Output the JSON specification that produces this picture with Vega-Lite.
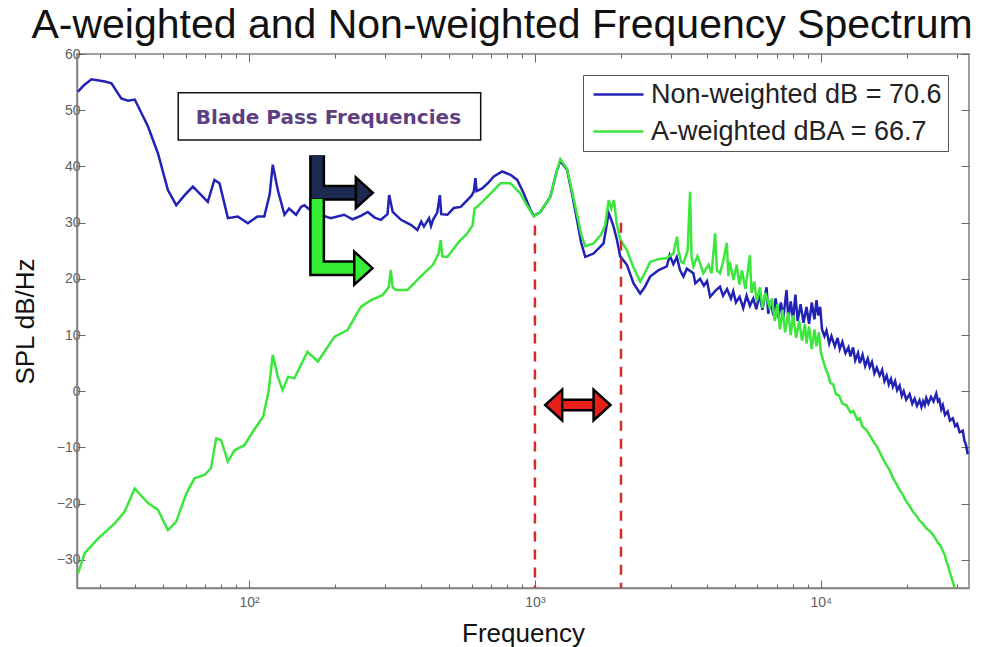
{
  "$schema": "https://vega.github.io/schema/vega-lite/v6.json",
  "width": 892,
  "height": 534,
  "autosize": {"type": "none"},
  "padding": {"left": 77, "top": 54, "right": 13, "bottom": 59},
  "background": "white",
  "title": {"text": "A-weighted and Non-weighted Frequency Spectrum", "fontSize": 41, "font": "Liberation Sans", "fontWeight": "normal", "color": "#111", "anchor": "middle", "dx": -21, "offset": -32, "baseline": "alphabetic"},
  "config": {
    "view": {"stroke": "#808080", "strokeWidth": 1.5},
    "axis": {"labelFont": "Liberation Sans", "titleFont": "Liberation Sans", "labelColor": "#606060", "labelFontSize": 14, "titleFontSize": 26, "titleFontWeight": "normal", "titleColor": "#111", "tickColor": "#666", "domainColor": "#808080", "domainWidth": 1.5, "grid": false},
    "legend": {"orient": "top-right", "offset": 21, "labelFont": "Liberation Sans", "labelFontSize": 27, "labelColor": "#222", "symbolType": "M-2.5,0L2.5,0", "symbolSize": 400, "symbolOffset": 16, "symbolStrokeWidth": 2.5, "strokeColor": "#555", "fillColor": "white", "padding": 6, "rowPadding": 9, "labelOffset": 19, "labelLimit": 400}
  },
  "datasets": {
    "spec": [
      {"s": "Non-weighted dB = 70.6", "f": 25.2, "v": 53.3},
      {"s": "Non-weighted dB = 70.6", "f": 26.5, "v": 54.5},
      {"s": "Non-weighted dB = 70.6", "f": 28.1, "v": 55.5},
      {"s": "Non-weighted dB = 70.6", "f": 31.3, "v": 55.1},
      {"s": "Non-weighted dB = 70.6", "f": 33, "v": 54.8},
      {"s": "Non-weighted dB = 70.6", "f": 35.7, "v": 52.1},
      {"s": "Non-weighted dB = 70.6", "f": 37.7, "v": 51.7},
      {"s": "Non-weighted dB = 70.6", "f": 39.8, "v": 51.9},
      {"s": "Non-weighted dB = 70.6", "f": 44.3, "v": 47.1},
      {"s": "Non-weighted dB = 70.6", "f": 48, "v": 42.3},
      {"s": "Non-weighted dB = 70.6", "f": 52, "v": 35.8},
      {"s": "Non-weighted dB = 70.6", "f": 55.6, "v": 33.1},
      {"s": "Non-weighted dB = 70.6", "f": 59.5, "v": 34.9},
      {"s": "Non-weighted dB = 70.6", "f": 63.6, "v": 36.4},
      {"s": "Non-weighted dB = 70.6", "f": 68, "v": 34.9},
      {"s": "Non-weighted dB = 70.6", "f": 71.7, "v": 33.7},
      {"s": "Non-weighted dB = 70.6", "f": 75.6, "v": 37.6},
      {"s": "Non-weighted dB = 70.6", "f": 78.8, "v": 37.0},
      {"s": "Non-weighted dB = 70.6", "f": 84.3, "v": 30.8},
      {"s": "Non-weighted dB = 70.6", "f": 91.3, "v": 31.1},
      {"s": "Non-weighted dB = 70.6", "f": 99, "v": 29.9},
      {"s": "Non-weighted dB = 70.6", "f": 107, "v": 31.1},
      {"s": "Non-weighted dB = 70.6", "f": 113, "v": 31.1},
      {"s": "Non-weighted dB = 70.6", "f": 118, "v": 35.0},
      {"s": "Non-weighted dB = 70.6", "f": 121, "v": 40.3},
      {"s": "Non-weighted dB = 70.6", "f": 126, "v": 35.8},
      {"s": "Non-weighted dB = 70.6", "f": 133, "v": 31.4},
      {"s": "Non-weighted dB = 70.6", "f": 138, "v": 32.5},
      {"s": "Non-weighted dB = 70.6", "f": 146, "v": 31.4},
      {"s": "Non-weighted dB = 70.6", "f": 152, "v": 32.8},
      {"s": "Non-weighted dB = 70.6", "f": 156, "v": 33.1},
      {"s": "Non-weighted dB = 70.6", "f": 164, "v": 32.2},
      {"s": "Non-weighted dB = 70.6", "f": 175, "v": 31.5},
      {"s": "Non-weighted dB = 70.6", "f": 193, "v": 30.8},
      {"s": "Non-weighted dB = 70.6", "f": 215, "v": 31.4},
      {"s": "Non-weighted dB = 70.6", "f": 230, "v": 30.6},
      {"s": "Non-weighted dB = 70.6", "f": 246, "v": 31.2},
      {"s": "Non-weighted dB = 70.6", "f": 260, "v": 31.9},
      {"s": "Non-weighted dB = 70.6", "f": 275, "v": 30.9},
      {"s": "Non-weighted dB = 70.6", "f": 289, "v": 30.5},
      {"s": "Non-weighted dB = 70.6", "f": 305, "v": 31.5},
      {"s": "Non-weighted dB = 70.6", "f": 309, "v": 34.9},
      {"s": "Non-weighted dB = 70.6", "f": 318, "v": 31.9},
      {"s": "Non-weighted dB = 70.6", "f": 340, "v": 30.5},
      {"s": "Non-weighted dB = 70.6", "f": 368, "v": 29.6},
      {"s": "Non-weighted dB = 70.6", "f": 388, "v": 28.7},
      {"s": "Non-weighted dB = 70.6", "f": 400, "v": 30.2},
      {"s": "Non-weighted dB = 70.6", "f": 409, "v": 29.3},
      {"s": "Non-weighted dB = 70.6", "f": 426, "v": 30.8},
      {"s": "Non-weighted dB = 70.6", "f": 433, "v": 29.4},
      {"s": "Non-weighted dB = 70.6", "f": 440, "v": 30.5},
      {"s": "Non-weighted dB = 70.6", "f": 455, "v": 31.8},
      {"s": "Non-weighted dB = 70.6", "f": 465, "v": 34.9},
      {"s": "Non-weighted dB = 70.6", "f": 470, "v": 31.5},
      {"s": "Non-weighted dB = 70.6", "f": 494, "v": 31.4},
      {"s": "Non-weighted dB = 70.6", "f": 520, "v": 32.6},
      {"s": "Non-weighted dB = 70.6", "f": 550, "v": 32.8},
      {"s": "Non-weighted dB = 70.6", "f": 580, "v": 34.0},
      {"s": "Non-weighted dB = 70.6", "f": 600, "v": 34.8},
      {"s": "Non-weighted dB = 70.6", "f": 611, "v": 35.5},
      {"s": "Non-weighted dB = 70.6", "f": 619, "v": 37.9},
      {"s": "Non-weighted dB = 70.6", "f": 625, "v": 35.6},
      {"s": "Non-weighted dB = 70.6", "f": 654, "v": 36.1},
      {"s": "Non-weighted dB = 70.6", "f": 690, "v": 37.2},
      {"s": "Non-weighted dB = 70.6", "f": 718, "v": 38.2},
      {"s": "Non-weighted dB = 70.6", "f": 768, "v": 39.1},
      {"s": "Non-weighted dB = 70.6", "f": 821, "v": 38.5},
      {"s": "Non-weighted dB = 70.6", "f": 867, "v": 37.6},
      {"s": "Non-weighted dB = 70.6", "f": 914, "v": 35.2},
      {"s": "Non-weighted dB = 70.6", "f": 960, "v": 32.5},
      {"s": "Non-weighted dB = 70.6", "f": 991, "v": 31.2},
      {"s": "Non-weighted dB = 70.6", "f": 1045, "v": 31.9},
      {"s": "Non-weighted dB = 70.6", "f": 1132, "v": 34.6},
      {"s": "Non-weighted dB = 70.6", "f": 1190, "v": 39.0},
      {"s": "Non-weighted dB = 70.6", "f": 1227, "v": 41.0},
      {"s": "Non-weighted dB = 70.6", "f": 1295, "v": 39.4},
      {"s": "Non-weighted dB = 70.6", "f": 1350, "v": 35.0},
      {"s": "Non-weighted dB = 70.6", "f": 1403, "v": 30.5},
      {"s": "Non-weighted dB = 70.6", "f": 1450, "v": 26.5},
      {"s": "Non-weighted dB = 70.6", "f": 1500, "v": 23.9},
      {"s": "Non-weighted dB = 70.6", "f": 1603, "v": 24.5},
      {"s": "Non-weighted dB = 70.6", "f": 1700, "v": 25.8},
      {"s": "Non-weighted dB = 70.6", "f": 1738, "v": 26.3},
      {"s": "Non-weighted dB = 70.6", "f": 1811, "v": 31.7},
      {"s": "Non-weighted dB = 70.6", "f": 1850, "v": 30.5},
      {"s": "Non-weighted dB = 70.6", "f": 1884, "v": 29.3},
      {"s": "Non-weighted dB = 70.6", "f": 1935, "v": 27.0},
      {"s": "Non-weighted dB = 70.6", "f": 1987, "v": 24.0},
      {"s": "Non-weighted dB = 70.6", "f": 2097, "v": 22.5},
      {"s": "Non-weighted dB = 70.6", "f": 2213, "v": 19.2},
      {"s": "Non-weighted dB = 70.6", "f": 2334, "v": 17.4},
      {"s": "Non-weighted dB = 70.6", "f": 2420, "v": 18.5},
      {"s": "Non-weighted dB = 70.6", "f": 2529, "v": 20.4},
      {"s": "Non-weighted dB = 70.6", "f": 2700, "v": 21.5},
      {"s": "Non-weighted dB = 70.6", "f": 2893, "v": 22.2},
      {"s": "Non-weighted dB = 70.6", "f": 2960, "v": 24.2},
      {"s": "Non-weighted dB = 70.6", "f": 3050, "v": 22.6},
      {"s": "Non-weighted dB = 70.6", "f": 3135, "v": 23.9},
      {"s": "Non-weighted dB = 70.6", "f": 3220, "v": 21.5},
      {"s": "Non-weighted dB = 70.6", "f": 3307, "v": 20.4},
      {"s": "Non-weighted dB = 70.6", "f": 3400, "v": 21.8},
      {"s": "Non-weighted dB = 70.6", "f": 3583, "v": 21.0},
      {"s": "Non-weighted dB = 70.6", "f": 3640, "v": 19.2},
      {"s": "Non-weighted dB = 70.6", "f": 3781, "v": 20.0},
      {"s": "Non-weighted dB = 70.6", "f": 3900, "v": 18.8},
      {"s": "Non-weighted dB = 70.6", "f": 4000, "v": 19.6},
      {"s": "Non-weighted dB = 70.6", "f": 4100, "v": 16.8},
      {"s": "Non-weighted dB = 70.6", "f": 4300, "v": 18.0},
      {"s": "Non-weighted dB = 70.6", "f": 4440, "v": 18.6},
      {"s": "Non-weighted dB = 70.6", "f": 4550, "v": 17.0},
      {"s": "Non-weighted dB = 70.6", "f": 4700, "v": 18.2},
      {"s": "Non-weighted dB = 70.6", "f": 4850, "v": 16.5},
      {"s": "Non-weighted dB = 70.6", "f": 4940, "v": 17.8},
      {"s": "Non-weighted dB = 70.6", "f": 5050, "v": 15.8},
      {"s": "Non-weighted dB = 70.6", "f": 5200, "v": 16.8},
      {"s": "Non-weighted dB = 70.6", "f": 5355, "v": 14.8},
      {"s": "Non-weighted dB = 70.6", "f": 5500, "v": 17.0},
      {"s": "Non-weighted dB = 70.6", "f": 5650, "v": 15.2},
      {"s": "Non-weighted dB = 70.6", "f": 5805, "v": 16.5},
      {"s": "Non-weighted dB = 70.6", "f": 5950, "v": 14.6},
      {"s": "Non-weighted dB = 70.6", "f": 6100, "v": 17.2},
      {"s": "Non-weighted dB = 70.6", "f": 6250, "v": 14.5},
      {"s": "Non-weighted dB = 70.6", "f": 6460, "v": 18.5},
      {"s": "Non-weighted dB = 70.6", "f": 6550, "v": 13.8},
      {"s": "Non-weighted dB = 70.6", "f": 6700, "v": 16.2},
      {"s": "Non-weighted dB = 70.6", "f": 6818, "v": 13.5},
      {"s": "Non-weighted dB = 70.6", "f": 6950, "v": 16.5},
      {"s": "Non-weighted dB = 70.6", "f": 7100, "v": 13.0},
      {"s": "Non-weighted dB = 70.6", "f": 7250, "v": 15.8},
      {"s": "Non-weighted dB = 70.6", "f": 7400, "v": 13.2},
      {"s": "Non-weighted dB = 70.6", "f": 7590, "v": 18.0},
      {"s": "Non-weighted dB = 70.6", "f": 7700, "v": 12.8},
      {"s": "Non-weighted dB = 70.6", "f": 7850, "v": 16.0},
      {"s": "Non-weighted dB = 70.6", "f": 8000, "v": 12.8},
      {"s": "Non-weighted dB = 70.6", "f": 8150, "v": 17.2},
      {"s": "Non-weighted dB = 70.6", "f": 8300, "v": 12.5},
      {"s": "Non-weighted dB = 70.6", "f": 8500, "v": 15.5},
      {"s": "Non-weighted dB = 70.6", "f": 8700, "v": 12.2},
      {"s": "Non-weighted dB = 70.6", "f": 8913, "v": 15.0},
      {"s": "Non-weighted dB = 70.6", "f": 9100, "v": 12.0},
      {"s": "Non-weighted dB = 70.6", "f": 9300, "v": 15.8},
      {"s": "Non-weighted dB = 70.6", "f": 9500, "v": 12.8},
      {"s": "Non-weighted dB = 70.6", "f": 9660, "v": 16.2},
      {"s": "Non-weighted dB = 70.6", "f": 9800, "v": 13.5},
      {"s": "Non-weighted dB = 70.6", "f": 9950, "v": 15.0},
      {"s": "Non-weighted dB = 70.6", "f": 10100, "v": 11.0},
      {"s": "Non-weighted dB = 70.6", "f": 10300, "v": 9.8},
      {"s": "Non-weighted dB = 70.6", "f": 10470, "v": 10.8},
      {"s": "Non-weighted dB = 70.6", "f": 10700, "v": 8.5},
      {"s": "Non-weighted dB = 70.6", "f": 10900, "v": 9.8},
      {"s": "Non-weighted dB = 70.6", "f": 11200, "v": 8.0},
      {"s": "Non-weighted dB = 70.6", "f": 11450, "v": 9.5},
      {"s": "Non-weighted dB = 70.6", "f": 11650, "v": 7.5},
      {"s": "Non-weighted dB = 70.6", "f": 11900, "v": 8.8},
      {"s": "Non-weighted dB = 70.6", "f": 12200, "v": 6.8},
      {"s": "Non-weighted dB = 70.6", "f": 12500, "v": 7.8},
      {"s": "Non-weighted dB = 70.6", "f": 12700, "v": 6.2},
      {"s": "Non-weighted dB = 70.6", "f": 12970, "v": 7.8},
      {"s": "Non-weighted dB = 70.6", "f": 13200, "v": 5.5},
      {"s": "Non-weighted dB = 70.6", "f": 13500, "v": 6.8},
      {"s": "Non-weighted dB = 70.6", "f": 13700, "v": 5.0},
      {"s": "Non-weighted dB = 70.6", "f": 14000, "v": 6.5},
      {"s": "Non-weighted dB = 70.6", "f": 14300, "v": 4.5},
      {"s": "Non-weighted dB = 70.6", "f": 14600, "v": 5.8},
      {"s": "Non-weighted dB = 70.6", "f": 14830, "v": 4.3},
      {"s": "Non-weighted dB = 70.6", "f": 15100, "v": 5.2},
      {"s": "Non-weighted dB = 70.6", "f": 15400, "v": 3.2},
      {"s": "Non-weighted dB = 70.6", "f": 15700, "v": 4.2},
      {"s": "Non-weighted dB = 70.6", "f": 16070, "v": 2.8},
      {"s": "Non-weighted dB = 70.6", "f": 16400, "v": 3.8},
      {"s": "Non-weighted dB = 70.6", "f": 16700, "v": 1.8},
      {"s": "Non-weighted dB = 70.6", "f": 17000, "v": 2.8},
      {"s": "Non-weighted dB = 70.6", "f": 17300, "v": 1.2},
      {"s": "Non-weighted dB = 70.6", "f": 17600, "v": 2.2},
      {"s": "Non-weighted dB = 70.6", "f": 17880, "v": 0.8},
      {"s": "Non-weighted dB = 70.6", "f": 18200, "v": 1.8},
      {"s": "Non-weighted dB = 70.6", "f": 18500, "v": 0.2},
      {"s": "Non-weighted dB = 70.6", "f": 18870, "v": 1.0},
      {"s": "Non-weighted dB = 70.6", "f": 19200, "v": -0.8},
      {"s": "Non-weighted dB = 70.6", "f": 19500, "v": 0.0},
      {"s": "Non-weighted dB = 70.6", "f": 19900, "v": -1.5},
      {"s": "Non-weighted dB = 70.6", "f": 20450, "v": -0.5},
      {"s": "Non-weighted dB = 70.6", "f": 20900, "v": -2.2},
      {"s": "Non-weighted dB = 70.6", "f": 21300, "v": -1.3},
      {"s": "Non-weighted dB = 70.6", "f": 21700, "v": -2.6},
      {"s": "Non-weighted dB = 70.6", "f": 22160, "v": -1.6},
      {"s": "Non-weighted dB = 70.6", "f": 22500, "v": -2.8},
      {"s": "Non-weighted dB = 70.6", "f": 22800, "v": -1.8},
      {"s": "Non-weighted dB = 70.6", "f": 23100, "v": -2.5},
      {"s": "Non-weighted dB = 70.6", "f": 23390, "v": -1.2},
      {"s": "Non-weighted dB = 70.6", "f": 23800, "v": -2.2},
      {"s": "Non-weighted dB = 70.6", "f": 24300, "v": -1.0},
      {"s": "Non-weighted dB = 70.6", "f": 24800, "v": -1.8},
      {"s": "Non-weighted dB = 70.6", "f": 25340, "v": -0.4},
      {"s": "Non-weighted dB = 70.6", "f": 25700, "v": -1.8},
      {"s": "Non-weighted dB = 70.6", "f": 26000, "v": -1.5},
      {"s": "Non-weighted dB = 70.6", "f": 26400, "v": -3.2},
      {"s": "Non-weighted dB = 70.6", "f": 26730, "v": -2.5},
      {"s": "Non-weighted dB = 70.6", "f": 27200, "v": -4.2},
      {"s": "Non-weighted dB = 70.6", "f": 27800, "v": -3.6},
      {"s": "Non-weighted dB = 70.6", "f": 28300, "v": -5.2},
      {"s": "Non-weighted dB = 70.6", "f": 28970, "v": -4.8},
      {"s": "Non-weighted dB = 70.6", "f": 29500, "v": -6.2},
      {"s": "Non-weighted dB = 70.6", "f": 30000, "v": -5.8},
      {"s": "Non-weighted dB = 70.6", "f": 30600, "v": -7.3},
      {"s": "Non-weighted dB = 70.6", "f": 31390, "v": -7.0},
      {"s": "Non-weighted dB = 70.6", "f": 31800, "v": -8.8},
      {"s": "Non-weighted dB = 70.6", "f": 32200, "v": -9.5},
      {"s": "Non-weighted dB = 70.6", "f": 32660, "v": -11.2},
      {"s": "A-weighted dBA = 66.7", "f": 25.2, "v": -32.4},
      {"s": "A-weighted dBA = 66.7", "f": 26.6, "v": -28.8},
      {"s": "A-weighted dBA = 66.7", "f": 29.6, "v": -26.2},
      {"s": "A-weighted dBA = 66.7", "f": 33.9, "v": -23.5},
      {"s": "A-weighted dBA = 66.7", "f": 36.7, "v": -21.4},
      {"s": "A-weighted dBA = 66.7", "f": 39.8, "v": -17.3},
      {"s": "A-weighted dBA = 66.7", "f": 44.3, "v": -19.9},
      {"s": "A-weighted dBA = 66.7", "f": 48, "v": -21.1},
      {"s": "A-weighted dBA = 66.7", "f": 52, "v": -24.7},
      {"s": "A-weighted dBA = 66.7", "f": 55.6, "v": -23.2},
      {"s": "A-weighted dBA = 66.7", "f": 60.3, "v": -18.2},
      {"s": "A-weighted dBA = 66.7", "f": 64.4, "v": -15.5},
      {"s": "A-weighted dBA = 66.7", "f": 69.8, "v": -14.9},
      {"s": "A-weighted dBA = 66.7", "f": 73.6, "v": -13.7},
      {"s": "A-weighted dBA = 66.7", "f": 76.7, "v": -8.4},
      {"s": "A-weighted dBA = 66.7", "f": 79.8, "v": -8.7},
      {"s": "A-weighted dBA = 66.7", "f": 84.3, "v": -12.5},
      {"s": "A-weighted dBA = 66.7", "f": 88.9, "v": -10.5},
      {"s": "A-weighted dBA = 66.7", "f": 96.3, "v": -9.6},
      {"s": "A-weighted dBA = 66.7", "f": 104, "v": -6.9},
      {"s": "A-weighted dBA = 66.7", "f": 112, "v": -4.5},
      {"s": "A-weighted dBA = 66.7", "f": 117, "v": 0.0},
      {"s": "A-weighted dBA = 66.7", "f": 121, "v": 6.5},
      {"s": "A-weighted dBA = 66.7", "f": 126, "v": 2.6},
      {"s": "A-weighted dBA = 66.7", "f": 131, "v": 0.2},
      {"s": "A-weighted dBA = 66.7", "f": 137, "v": 2.6},
      {"s": "A-weighted dBA = 66.7", "f": 144, "v": 2.3},
      {"s": "A-weighted dBA = 66.7", "f": 160, "v": 7.0},
      {"s": "A-weighted dBA = 66.7", "f": 174, "v": 5.3},
      {"s": "A-weighted dBA = 66.7", "f": 199, "v": 9.7},
      {"s": "A-weighted dBA = 66.7", "f": 221, "v": 10.9},
      {"s": "A-weighted dBA = 66.7", "f": 246, "v": 15.0},
      {"s": "A-weighted dBA = 66.7", "f": 267, "v": 16.2},
      {"s": "A-weighted dBA = 66.7", "f": 293, "v": 17.1},
      {"s": "A-weighted dBA = 66.7", "f": 308, "v": 18.5},
      {"s": "A-weighted dBA = 66.7", "f": 313, "v": 21.6},
      {"s": "A-weighted dBA = 66.7", "f": 318, "v": 18.5},
      {"s": "A-weighted dBA = 66.7", "f": 326, "v": 18.0},
      {"s": "A-weighted dBA = 66.7", "f": 358, "v": 18.0},
      {"s": "A-weighted dBA = 66.7", "f": 398, "v": 20.4},
      {"s": "A-weighted dBA = 66.7", "f": 440, "v": 22.5},
      {"s": "A-weighted dBA = 66.7", "f": 460, "v": 24.5},
      {"s": "A-weighted dBA = 66.7", "f": 468, "v": 26.9},
      {"s": "A-weighted dBA = 66.7", "f": 474, "v": 24.0},
      {"s": "A-weighted dBA = 66.7", "f": 494, "v": 23.9},
      {"s": "A-weighted dBA = 66.7", "f": 540, "v": 26.5},
      {"s": "A-weighted dBA = 66.7", "f": 580, "v": 28.1},
      {"s": "A-weighted dBA = 66.7", "f": 605, "v": 29.5},
      {"s": "A-weighted dBA = 66.7", "f": 615, "v": 32.5},
      {"s": "A-weighted dBA = 66.7", "f": 628, "v": 32.8},
      {"s": "A-weighted dBA = 66.7", "f": 681, "v": 34.6},
      {"s": "A-weighted dBA = 66.7", "f": 758, "v": 37.0},
      {"s": "A-weighted dBA = 66.7", "f": 821, "v": 37.0},
      {"s": "A-weighted dBA = 66.7", "f": 889, "v": 35.2},
      {"s": "A-weighted dBA = 66.7", "f": 940, "v": 33.0},
      {"s": "A-weighted dBA = 66.7", "f": 991, "v": 31.1},
      {"s": "A-weighted dBA = 66.7", "f": 1045, "v": 31.9},
      {"s": "A-weighted dBA = 66.7", "f": 1132, "v": 34.6},
      {"s": "A-weighted dBA = 66.7", "f": 1190, "v": 39.0},
      {"s": "A-weighted dBA = 66.7", "f": 1227, "v": 41.3},
      {"s": "A-weighted dBA = 66.7", "f": 1295, "v": 39.6},
      {"s": "A-weighted dBA = 66.7", "f": 1350, "v": 35.5},
      {"s": "A-weighted dBA = 66.7", "f": 1403, "v": 31.5},
      {"s": "A-weighted dBA = 66.7", "f": 1450, "v": 28.0},
      {"s": "A-weighted dBA = 66.7", "f": 1500, "v": 25.8},
      {"s": "A-weighted dBA = 66.7", "f": 1603, "v": 26.3},
      {"s": "A-weighted dBA = 66.7", "f": 1700, "v": 27.8},
      {"s": "A-weighted dBA = 66.7", "f": 1760, "v": 29.5},
      {"s": "A-weighted dBA = 66.7", "f": 1811, "v": 34.0},
      {"s": "A-weighted dBA = 66.7", "f": 1850, "v": 32.5},
      {"s": "A-weighted dBA = 66.7", "f": 1890, "v": 34.0},
      {"s": "A-weighted dBA = 66.7", "f": 1930, "v": 30.0},
      {"s": "A-weighted dBA = 66.7", "f": 1987, "v": 27.0},
      {"s": "A-weighted dBA = 66.7", "f": 2097, "v": 25.1},
      {"s": "A-weighted dBA = 66.7", "f": 2213, "v": 22.0},
      {"s": "A-weighted dBA = 66.7", "f": 2334, "v": 19.5},
      {"s": "A-weighted dBA = 66.7", "f": 2420, "v": 21.0},
      {"s": "A-weighted dBA = 66.7", "f": 2529, "v": 23.0},
      {"s": "A-weighted dBA = 66.7", "f": 2700, "v": 23.5},
      {"s": "A-weighted dBA = 66.7", "f": 2893, "v": 23.7},
      {"s": "A-weighted dBA = 66.7", "f": 3050, "v": 24.5},
      {"s": "A-weighted dBA = 66.7", "f": 3140, "v": 27.5},
      {"s": "A-weighted dBA = 66.7", "f": 3177, "v": 25.0},
      {"s": "A-weighted dBA = 66.7", "f": 3250, "v": 23.0},
      {"s": "A-weighted dBA = 66.7", "f": 3307, "v": 22.8},
      {"s": "A-weighted dBA = 66.7", "f": 3420, "v": 25.0},
      {"s": "A-weighted dBA = 66.7", "f": 3490, "v": 35.5},
      {"s": "A-weighted dBA = 66.7", "f": 3530, "v": 24.0},
      {"s": "A-weighted dBA = 66.7", "f": 3583, "v": 22.2},
      {"s": "A-weighted dBA = 66.7", "f": 3700, "v": 24.0},
      {"s": "A-weighted dBA = 66.7", "f": 3780, "v": 22.8},
      {"s": "A-weighted dBA = 66.7", "f": 3880, "v": 21.0},
      {"s": "A-weighted dBA = 66.7", "f": 4050, "v": 22.5},
      {"s": "A-weighted dBA = 66.7", "f": 4150, "v": 21.0},
      {"s": "A-weighted dBA = 66.7", "f": 4270, "v": 28.1},
      {"s": "A-weighted dBA = 66.7", "f": 4330, "v": 21.5},
      {"s": "A-weighted dBA = 66.7", "f": 4440, "v": 21.0},
      {"s": "A-weighted dBA = 66.7", "f": 4550, "v": 23.0},
      {"s": "A-weighted dBA = 66.7", "f": 4690, "v": 26.4},
      {"s": "A-weighted dBA = 66.7", "f": 4750, "v": 20.5},
      {"s": "A-weighted dBA = 66.7", "f": 4810, "v": 23.0},
      {"s": "A-weighted dBA = 66.7", "f": 4950, "v": 19.8},
      {"s": "A-weighted dBA = 66.7", "f": 5080, "v": 22.5},
      {"s": "A-weighted dBA = 66.7", "f": 5190, "v": 19.0},
      {"s": "A-weighted dBA = 66.7", "f": 5300, "v": 21.5},
      {"s": "A-weighted dBA = 66.7", "f": 5450, "v": 18.2},
      {"s": "A-weighted dBA = 66.7", "f": 5650, "v": 24.2},
      {"s": "A-weighted dBA = 66.7", "f": 5720, "v": 17.5},
      {"s": "A-weighted dBA = 66.7", "f": 5850, "v": 19.5},
      {"s": "A-weighted dBA = 66.7", "f": 5970, "v": 16.0},
      {"s": "A-weighted dBA = 66.7", "f": 6130, "v": 18.5},
      {"s": "A-weighted dBA = 66.7", "f": 6250, "v": 14.8},
      {"s": "A-weighted dBA = 66.7", "f": 6400, "v": 17.5},
      {"s": "A-weighted dBA = 66.7", "f": 6620, "v": 15.0},
      {"s": "A-weighted dBA = 66.7", "f": 6750, "v": 16.5},
      {"s": "A-weighted dBA = 66.7", "f": 6900, "v": 12.5},
      {"s": "A-weighted dBA = 66.7", "f": 7050, "v": 15.5},
      {"s": "A-weighted dBA = 66.7", "f": 7200, "v": 11.0},
      {"s": "A-weighted dBA = 66.7", "f": 7350, "v": 14.5},
      {"s": "A-weighted dBA = 66.7", "f": 7500, "v": 10.5},
      {"s": "A-weighted dBA = 66.7", "f": 7700, "v": 14.0},
      {"s": "A-weighted dBA = 66.7", "f": 7850, "v": 10.0},
      {"s": "A-weighted dBA = 66.7", "f": 8000, "v": 13.5},
      {"s": "A-weighted dBA = 66.7", "f": 8200, "v": 9.5},
      {"s": "A-weighted dBA = 66.7", "f": 8400, "v": 12.5},
      {"s": "A-weighted dBA = 66.7", "f": 8600, "v": 9.0},
      {"s": "A-weighted dBA = 66.7", "f": 8800, "v": 12.0},
      {"s": "A-weighted dBA = 66.7", "f": 8913, "v": 8.5},
      {"s": "A-weighted dBA = 66.7", "f": 9100, "v": 11.5},
      {"s": "A-weighted dBA = 66.7", "f": 9300, "v": 7.5},
      {"s": "A-weighted dBA = 66.7", "f": 9500, "v": 11.0},
      {"s": "A-weighted dBA = 66.7", "f": 9660, "v": 8.0},
      {"s": "A-weighted dBA = 66.7", "f": 9850, "v": 10.5},
      {"s": "A-weighted dBA = 66.7", "f": 10000, "v": 7.0},
      {"s": "A-weighted dBA = 66.7", "f": 10190, "v": 5.5},
      {"s": "A-weighted dBA = 66.7", "f": 10400, "v": 4.0},
      {"s": "A-weighted dBA = 66.7", "f": 10600, "v": 3.0},
      {"s": "A-weighted dBA = 66.7", "f": 10800, "v": 1.5},
      {"s": "A-weighted dBA = 66.7", "f": 11050, "v": 1.2},
      {"s": "A-weighted dBA = 66.7", "f": 11300, "v": -0.5},
      {"s": "A-weighted dBA = 66.7", "f": 11600, "v": -0.8},
      {"s": "A-weighted dBA = 66.7", "f": 11900, "v": -2.2},
      {"s": "A-weighted dBA = 66.7", "f": 12300, "v": -2.5},
      {"s": "A-weighted dBA = 66.7", "f": 12700, "v": -3.8},
      {"s": "A-weighted dBA = 66.7", "f": 13000, "v": -3.5},
      {"s": "A-weighted dBA = 66.7", "f": 13400, "v": -5.0},
      {"s": "A-weighted dBA = 66.7", "f": 13680, "v": -4.8},
      {"s": "A-weighted dBA = 66.7", "f": 14000, "v": -6.3},
      {"s": "A-weighted dBA = 66.7", "f": 14400, "v": -6.8},
      {"s": "A-weighted dBA = 66.7", "f": 14830, "v": -7.8},
      {"s": "A-weighted dBA = 66.7", "f": 15100, "v": -8.5},
      {"s": "A-weighted dBA = 66.7", "f": 15400, "v": -9.2},
      {"s": "A-weighted dBA = 66.7", "f": 15700, "v": -9.8},
      {"s": "A-weighted dBA = 66.7", "f": 16070, "v": -10.8},
      {"s": "A-weighted dBA = 66.7", "f": 16500, "v": -12.0},
      {"s": "A-weighted dBA = 66.7", "f": 17000, "v": -13.2},
      {"s": "A-weighted dBA = 66.7", "f": 17400, "v": -14.0},
      {"s": "A-weighted dBA = 66.7", "f": 17880, "v": -15.4},
      {"s": "A-weighted dBA = 66.7", "f": 18300, "v": -16.3},
      {"s": "A-weighted dBA = 66.7", "f": 18800, "v": -17.4},
      {"s": "A-weighted dBA = 66.7", "f": 19300, "v": -18.3},
      {"s": "A-weighted dBA = 66.7", "f": 19890, "v": -19.6},
      {"s": "A-weighted dBA = 66.7", "f": 20400, "v": -20.3},
      {"s": "A-weighted dBA = 66.7", "f": 21000, "v": -21.4},
      {"s": "A-weighted dBA = 66.7", "f": 21500, "v": -22.0},
      {"s": "A-weighted dBA = 66.7", "f": 22160, "v": -23.0},
      {"s": "A-weighted dBA = 66.7", "f": 22800, "v": -23.6},
      {"s": "A-weighted dBA = 66.7", "f": 23400, "v": -24.4},
      {"s": "A-weighted dBA = 66.7", "f": 24000, "v": -24.8},
      {"s": "A-weighted dBA = 66.7", "f": 24660, "v": -25.5},
      {"s": "A-weighted dBA = 66.7", "f": 25200, "v": -26.2},
      {"s": "A-weighted dBA = 66.7", "f": 25700, "v": -27.0},
      {"s": "A-weighted dBA = 66.7", "f": 26200, "v": -27.4},
      {"s": "A-weighted dBA = 66.7", "f": 26730, "v": -28.4},
      {"s": "A-weighted dBA = 66.7", "f": 27200, "v": -29.2},
      {"s": "A-weighted dBA = 66.7", "f": 27500, "v": -30.3},
      {"s": "A-weighted dBA = 66.7", "f": 27900, "v": -31.0},
      {"s": "A-weighted dBA = 66.7", "f": 28200, "v": -32.0},
      {"s": "A-weighted dBA = 66.7", "f": 28700, "v": -33.2},
      {"s": "A-weighted dBA = 66.7", "f": 29370, "v": -34.9}
    ],
    "markers": [
      {"f": 1000, "v": 29.5, "v2": -35},
      {"f": 2000, "v": 30, "v2": -35}
    ],
    "lshape": [
      {"a": "navy", "o": 1, "f": 173, "v": 42.0},
      {"a": "navy", "o": 2, "f": 173, "v": 35.3},
      {"a": "navy", "o": 3, "f": 240, "v": 35.3},
      {"a": "green", "o": 1, "f": 173, "v": 34.2},
      {"a": "green", "o": 2, "f": 173, "v": 21.9},
      {"a": "green", "o": 3, "f": 240, "v": 21.9}
    ],
    "heads": [
      {"a": "navy", "d": "right", "f": 253, "v": 35.3},
      {"a": "green", "d": "right", "f": 251, "v": 21.9},
      {"a": "red", "d": "left", "f": 1163, "v": -2.44},
      {"a": "red", "d": "right", "f": 1717, "v": -2.44}
    ],
    "span": [
      {"f": 1200, "v": -2.44},
      {"f": 1680, "v": -2.44}
    ],
    "box": [
      {"f": 56.5, "f2": 646, "v": 53.1, "v2": 44.7, "label": "Blade Pass Frequencies", "fc": 189.5, "vc": 48.7}
    ]
  },
  "layer": [
    {
      "data": {"name": "spec"},
      "mark": {"type": "line", "strokeWidth": 2.5, "clip": true},
      "encoding": {
        "x": {"field": "f", "type": "quantitative", "scale": {"type": "log", "domain": [25, 33000], "nice": false},
          "axis": {"orient": "bottom", "title": "Frequency", "titlePadding": 7,
            "values": [30, 40, 50, 60, 70, 80, 90, 100, 200, 300, 400, 500, 600, 700, 800, 900, 1000, 2000, 3000, 4000, 5000, 6000, 7000, 8000, 9000, 10000, 20000, 30000],
            "labelExpr": "datum.value == 100 ? '10²' : datum.value == 1000 ? '10³' : datum.value == 10000 ? '10⁴' : ''",
            "tickSize": {"condition": {"test": "datum.value == 100 || datum.value == 1000 || datum.value == 10000", "value": -8}, "value": -4},
            "labelPadding": 15, "labelFlush": false, "labelOverlap": false}},
        "y": {"field": "v", "type": "quantitative", "scale": {"domain": [-35, 60], "nice": false, "zero": false},
          "axis": {"orient": "left", "title": "SPL dB/Hz", "values": [-30, -20, -10, 0, 10, 20, 30, 40, 50, 60], "tickSize": -8, "labelPadding": 5, "titlePadding": 18}},
        "color": {"field": "s", "type": "nominal", "scale": {"domain": ["Non-weighted dB = 70.6", "A-weighted dBA = 66.7"], "range": ["#2222b4", "#3ce63c"]}, "legend": {"title": null}}
      }
    },
    {
      "data": {"name": "markers"},
      "mark": {"type": "rule", "color": "#d42a2a", "strokeWidth": 2.5, "strokeDash": [10, 8]},
      "encoding": {
        "x": {"field": "f", "type": "quantitative", "scale": {"type": "log", "domain": [25, 33000], "nice": false},
          "axis": {"orient": "top", "title": null, "labels": false, "domain": false,
            "values": [30, 40, 50, 60, 70, 80, 90, 100, 200, 300, 400, 500, 600, 700, 800, 900, 1000, 2000, 3000, 4000, 5000, 6000, 7000, 8000, 9000, 10000, 20000, 30000],
            "tickSize": {"condition": {"test": "datum.value == 100 || datum.value == 1000 || datum.value == 10000", "value": -8}, "value": -4}}},
        "y": {"field": "v", "type": "quantitative", "scale": {"domain": [-35, 60], "nice": false, "zero": false},
          "axis": {"orient": "right", "title": null, "labels": false, "domain": false, "values": [-30, -20, -10, 0, 10, 20, 30, 40, 50, 60], "tickSize": -8}},
        "y2": {"field": "v2"}
      }
    },
    {
      "data": {"name": "box"},
      "mark": {"type": "rect", "fill": "white", "stroke": "#111", "strokeWidth": 1.5},
      "encoding": {
        "x": {"field": "f", "type": "quantitative", "scale": {"type": "log", "domain": [25, 33000], "nice": false}, "axis": null},
        "x2": {"field": "f2"},
        "y": {"field": "v", "type": "quantitative", "scale": {"domain": [-35, 60], "nice": false, "zero": false}, "axis": null},
        "y2": {"field": "v2"}
      }
    },
    {
      "data": {"name": "box"},
      "mark": {"type": "text", "font": "DejaVu Sans", "fontWeight": "bold", "fontSize": 20, "color": "#5e3f82", "align": "center", "baseline": "middle"},
      "encoding": {
        "x": {"field": "fc", "type": "quantitative", "scale": {"type": "log", "domain": [25, 33000], "nice": false}, "axis": null},
        "y": {"field": "vc", "type": "quantitative", "scale": {"domain": [-35, 60], "nice": false, "zero": false}, "axis": null},
        "text": {"field": "label"}
      }
    },
    {
      "data": {"name": "lshape"},
      "mark": {"type": "line", "color": "#000", "strokeWidth": 16, "strokeCap": "butt", "strokeJoin": "miter"},
      "encoding": {
        "x": {"field": "f", "type": "quantitative", "scale": {"type": "log", "domain": [25, 33000], "nice": false}, "axis": null},
        "y": {"field": "v", "type": "quantitative", "scale": {"domain": [-35, 60], "nice": false, "zero": false}, "axis": null},
        "detail": {"field": "a"},
        "order": {"field": "o"}
      }
    },
    {
      "data": {"name": "lshape"},
      "transform": [{"filter": "datum.a == 'navy'"}],
      "mark": {"type": "line", "color": "#1c2a52", "strokeWidth": 11, "strokeCap": "butt", "strokeJoin": "miter"},
      "encoding": {
        "x": {"field": "f", "type": "quantitative", "scale": {"type": "log", "domain": [25, 33000], "nice": false}, "axis": null},
        "y": {"field": "v", "type": "quantitative", "scale": {"domain": [-35, 60], "nice": false, "zero": false}, "axis": null},
        "order": {"field": "o"}
      }
    },
    {
      "data": {"name": "lshape"},
      "transform": [{"filter": "datum.a == 'green'"}],
      "mark": {"type": "line", "color": "#33ee33", "strokeWidth": 11, "strokeCap": "butt", "strokeJoin": "miter"},
      "encoding": {
        "x": {"field": "f", "type": "quantitative", "scale": {"type": "log", "domain": [25, 33000], "nice": false}, "axis": null},
        "y": {"field": "v", "type": "quantitative", "scale": {"domain": [-35, 60], "nice": false, "zero": false}, "axis": null},
        "order": {"field": "o"}
      }
    },
    {
      "data": {"name": "span"},
      "mark": {"type": "line", "color": "#000", "strokeWidth": 13, "strokeCap": "butt"},
      "encoding": {
        "x": {"field": "f", "type": "quantitative", "scale": {"type": "log", "domain": [25, 33000], "nice": false}, "axis": null},
        "y": {"field": "v", "type": "quantitative", "scale": {"domain": [-35, 60], "nice": false, "zero": false}, "axis": null}
      }
    },
    {
      "data": {"name": "span"},
      "mark": {"type": "line", "color": "#e8201a", "strokeWidth": 8, "strokeCap": "butt"},
      "encoding": {
        "x": {"field": "f", "type": "quantitative", "scale": {"type": "log", "domain": [25, 33000], "nice": false}, "axis": null},
        "y": {"field": "v", "type": "quantitative", "scale": {"domain": [-35, 60], "nice": false, "zero": false}, "axis": null}
      }
    },
    {
      "data": {"name": "heads"},
      "mark": {"type": "point", "filled": true, "stroke": "#000", "strokeWidth": 2.5, "opacity": 1, "strokeJoin": "miter"},
      "encoding": {
        "x": {"field": "f", "type": "quantitative", "scale": {"type": "log", "domain": [25, 33000], "nice": false}, "axis": null},
        "y": {"field": "v", "type": "quantitative", "scale": {"domain": [-35, 60], "nice": false, "zero": false}, "axis": null},
        "fill": {"condition": [{"test": "datum.a == 'navy'", "value": "#1c2a52"}, {"test": "datum.a == 'green'", "value": "#33ee33"}], "value": "#e8201a"},
        "shape": {"condition": {"test": "datum.d == 'left'", "value": "M0.55,-1L-0.55,0L0.55,1Z"}, "value": "M-0.55,-1L0.55,0L-0.55,1Z"},
        "size": {"condition": {"test": "datum.a == 'green'", "value": 1100}, "value": 950}
      }
    }
  ],
  "resolve": {"axis": {"x": "independent", "y": "independent"}}
}
